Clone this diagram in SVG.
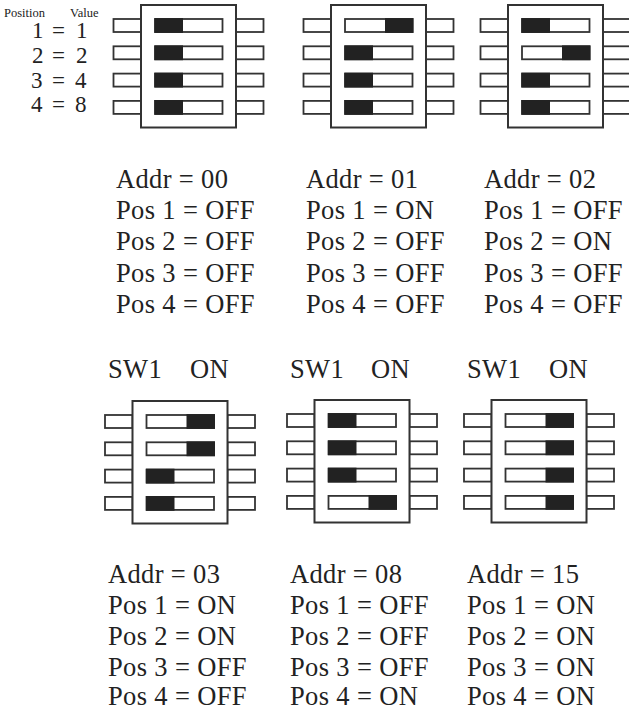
<svg xmlns="http://www.w3.org/2000/svg" width="629" height="711" viewBox="0 0 629 711">
<style>
text{font-family:"Liberation Serif","Times New Roman",serif;fill:#222}
.t{font-size:26.5px;letter-spacing:.35px}
.l{font-size:23px}
.s{font-size:12.5px}
.b{fill:#fff;stroke:#333;stroke-width:2}
.p{fill:#fff;stroke:#333;stroke-width:1.8}
.k{fill:#222}
</style>
<defs>
<g id="sw">
<rect class="p" x="-27.500" y="14" width="27.500" height="13"/><rect class="p" x="-27.500" y="41.300" width="27.500" height="13"/><rect class="p" x="-27.500" y="68.600" width="27.500" height="13"/><rect class="p" x="-27.500" y="95.900" width="27.500" height="13"/>
<rect class="p" x="95" y="14" width="27.500" height="13"/><rect class="p" x="95" y="41.300" width="27.500" height="13"/><rect class="p" x="95" y="68.600" width="27.500" height="13"/><rect class="p" x="95" y="95.900" width="27.500" height="13"/>
<rect class="b" x="0" y="0" width="95" height="122.500"/>
<rect class="p" x="14" y="14" width="67.500" height="13"/><rect class="p" x="14" y="41.300" width="67.500" height="13"/><rect class="p" x="14" y="68.600" width="67.500" height="13"/><rect class="p" x="14" y="95.900" width="67.500" height="13"/>
</g>
<rect id="L" class="k" x="13.500" width="28.500" height="14.800"/>
<rect id="R" class="k" x="54" width="28.500" height="14.800"/>
</defs>
<g id="connectors"/>
<g id="legend">
<text class="s" x="4" y="17">Position</text><text class="s" x="70" y="17">Value</text>
<text class="l" x="32" y="38">1</text><text class="l" x="52" y="38">=</text><text class="l" x="76" y="38">1</text>
<text class="l" x="32" y="63">2</text><text class="l" x="52" y="63">=</text><text class="l" x="76" y="63">2</text>
<text class="l" x="31" y="88">3</text><text class="l" x="52" y="88">=</text><text class="l" x="75" y="88">4</text>
<text class="l" x="31" y="112">4</text><text class="l" x="52" y="112">=</text><text class="l" x="75" y="112">8</text>
</g>
<g id="switch-00" transform="translate(141 5)"><use href="#sw"/><use href="#L" y="13.100"/><use href="#L" y="40.400"/><use href="#L" y="67.700"/><use href="#L" y="95"/></g>
<g id="switch-01" transform="translate(331 5)"><use href="#sw"/><use href="#R" y="13.100"/><use href="#L" y="40.400"/><use href="#L" y="67.700"/><use href="#L" y="95"/></g>
<g id="switch-02" transform="translate(508 5)"><use href="#sw"/><use href="#L" y="13.100"/><use href="#R" y="40.400"/><use href="#L" y="67.700"/><use href="#L" y="95"/></g>
<g id="switch-03" transform="translate(132.500 401)"><use href="#sw"/><use href="#R" y="13.100"/><use href="#R" y="40.400"/><use href="#L" y="67.700"/><use href="#L" y="95"/></g>
<g id="switch-08" transform="translate(314.500 400)"><use href="#sw"/><use href="#L" y="13.100"/><use href="#L" y="40.400"/><use href="#L" y="67.700"/><use href="#R" y="95"/></g>
<g id="switch-15" transform="translate(491.500 400)"><use href="#sw"/><use href="#R" y="13.100"/><use href="#R" y="40.400"/><use href="#R" y="67.700"/><use href="#R" y="95"/></g>
<g id="label-00" class="t"><text x="116" y="188">Addr = 00</text><text x="116" y="219">Pos 1 = OFF</text><text x="116" y="250">Pos 2 = OFF</text><text x="116" y="282">Pos 3 = OFF</text><text x="116" y="313">Pos 4 = OFF</text></g>
<g id="label-01" class="t"><text x="306" y="188">Addr = 01</text><text x="306" y="219">Pos 1 = ON</text><text x="306" y="250">Pos 2 = OFF</text><text x="306" y="282">Pos 3 = OFF</text><text x="306" y="313">Pos 4 = OFF</text></g>
<g id="label-02" class="t"><text x="484" y="188">Addr = 02</text><text x="484" y="219">Pos 1 = OFF</text><text x="484" y="250">Pos 2 = ON</text><text x="484" y="282">Pos 3 = OFF</text><text x="484" y="313">Pos 4 = OFF</text></g>
<g id="sw-labels" class="t"><text x="108" y="378">SW1</text><text x="190" y="378">ON</text><text x="290" y="378">SW1</text><text x="371" y="378">ON</text><text x="467" y="378">SW1</text><text x="549" y="378">ON</text></g>
<g id="label-03" class="t"><text x="108" y="583">Addr = 03</text><text x="108" y="614">Pos 1 = ON</text><text x="108" y="645">Pos 2 = ON</text><text x="108" y="676">Pos 3 = OFF</text><text x="108" y="705">Pos 4 = OFF</text></g>
<g id="label-08" class="t"><text x="290" y="583">Addr = 08</text><text x="290" y="614">Pos 1 = OFF</text><text x="290" y="645">Pos 2 = OFF</text><text x="290" y="676">Pos 3 = OFF</text><text x="290" y="705">Pos 4 = ON</text></g>
<g id="label-15" class="t"><text x="467" y="583">Addr = 15</text><text x="467" y="614">Pos 1 = ON</text><text x="467" y="645">Pos 2 = ON</text><text x="467" y="676">Pos 3 = ON</text><text x="467" y="705">Pos 4 = ON</text></g>
</svg>
